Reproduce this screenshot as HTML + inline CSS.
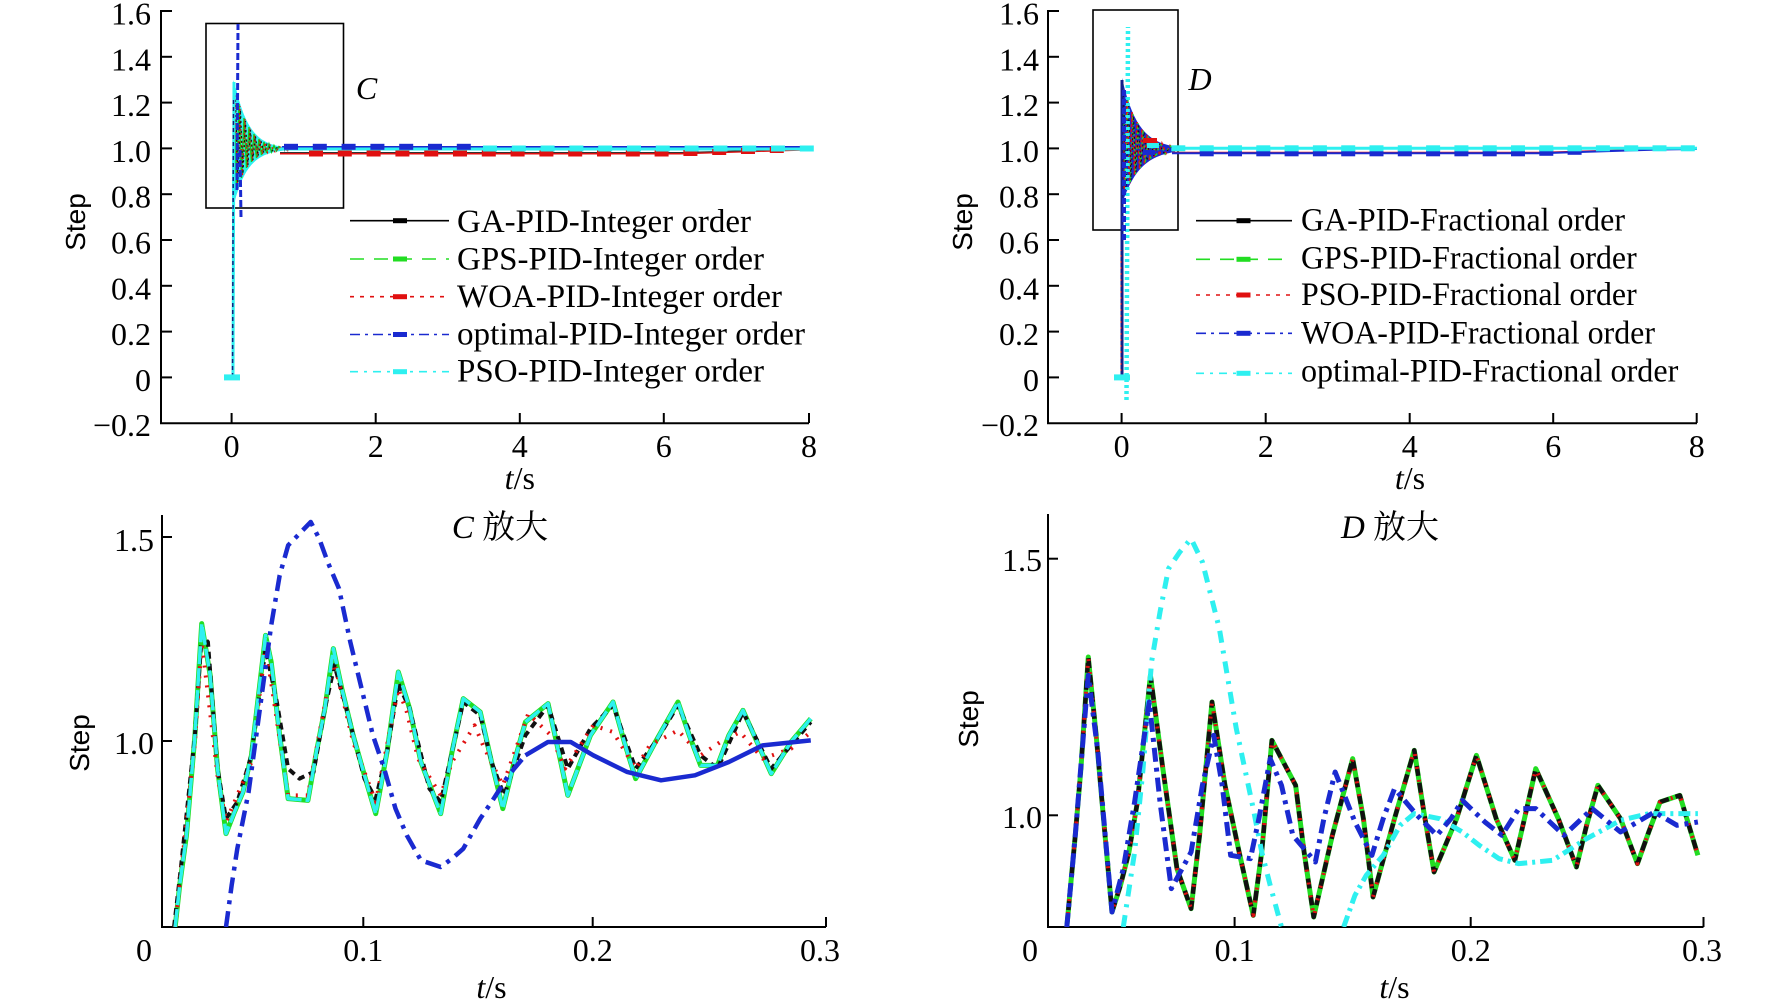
<!DOCTYPE html>
<html><head><meta charset="utf-8"><style>
html,body{margin:0;padding:0;background:#fff;}
svg{display:block;}
.tk{font-family:"Liberation Serif",serif;font-size:32px;fill:#000;}
.lg{font-family:"Liberation Serif",serif;font-size:33px;fill:#000;}
.st{font-family:"Liberation Sans",sans-serif;font-size:28px;fill:#000;}
.ttl{font-family:"Liberation Serif","Noto Serif CJK SC","Noto Sans CJK SC",serif;font-size:33px;fill:#000;}
</style></head><body>
<svg width="1772" height="1005" viewBox="0 0 1772 1005" xmlns="http://www.w3.org/2000/svg">
<rect width="1772" height="1005" fill="#fff"/>
<defs>
<clipPath id="cbl" clipPathUnits="userSpaceOnUse"><rect x="287" y="20" width="1180" height="1255"/></clipPath>
<clipPath id="cbr" clipPathUnits="userSpaceOnUse"><rect x="287" y="20" width="1165" height="1255"/></clipPath>
</defs>

<!-- ================= TOP LEFT ================= -->
<g stroke="#000" stroke-width="2" fill="none">
<line x1="161" y1="10" x2="161" y2="424"/>
<line x1="160" y1="423.2" x2="809" y2="423.2"/>
<line x1="161" y1="11" x2="172" y2="11"/><line x1="161" y1="56.8" x2="172" y2="56.8"/><line x1="161" y1="102.6" x2="172" y2="102.6"/><line x1="161" y1="148.4" x2="172" y2="148.4"/><line x1="161" y1="194.2" x2="172" y2="194.2"/><line x1="161" y1="240" x2="172" y2="240"/><line x1="161" y1="285.8" x2="172" y2="285.8"/><line x1="161" y1="331.6" x2="172" y2="331.6"/><line x1="161" y1="377.4" x2="172" y2="377.4"/>
<line x1="231.6" y1="423" x2="231.6" y2="413"/><line x1="375.7" y1="423" x2="375.7" y2="413"/><line x1="519.8" y1="423" x2="519.8" y2="413"/><line x1="663.8" y1="423" x2="663.8" y2="413"/><line x1="809" y1="423" x2="809" y2="413"/>
</g>
<g class="tk" text-anchor="end">
<text x="151" y="24.5" textLength="40" lengthAdjust="spacingAndGlyphs">1.6</text>
<text x="151" y="70.3" textLength="40" lengthAdjust="spacingAndGlyphs">1.4</text>
<text x="151" y="116.1" textLength="40" lengthAdjust="spacingAndGlyphs">1.2</text>
<text x="151" y="161.9" textLength="40" lengthAdjust="spacingAndGlyphs">1.0</text>
<text x="151" y="207.7" textLength="40" lengthAdjust="spacingAndGlyphs">0.8</text>
<text x="151" y="253.5" textLength="40" lengthAdjust="spacingAndGlyphs">0.6</text>
<text x="151" y="299.3" textLength="40" lengthAdjust="spacingAndGlyphs">0.4</text>
<text x="151" y="345.1" textLength="40" lengthAdjust="spacingAndGlyphs">0.2</text>
<text x="151" y="390.9">0</text>
<text x="151" y="436" textLength="58" lengthAdjust="spacingAndGlyphs">−0.2</text>
</g>
<g class="tk" text-anchor="middle">
<text x="231.6" y="457">0</text><text x="375.7" y="457">2</text><text x="519.8" y="457">4</text><text x="663.8" y="457">6</text><text x="809" y="457">8</text>
<text x="519.8" y="489"><tspan font-style="italic">t</tspan>/s</text>
</g>
<text class="st" transform="translate(85,222) rotate(-90)" text-anchor="middle">Step</text>
<rect x="206" y="23.5" width="137.5" height="184.5" fill="none" stroke="#000" stroke-width="1.6"/>
<text class="tk" x="366.5" y="99" text-anchor="middle" font-style="italic" font-size="34">C</text>

<!-- TL data -->
<polygon fill="#2ef0f0" points="233,80 236.5,90.4 239,100 241.5,108 244,114.7 246.5,120.3 249,125 251.5,128.9 254,132.2 256.5,134.9 259,137.2 261.5,139.2 264,140.8 266.5,142.1 269,143.3 271.5,144.2 274,145 276.5,145.6 279,146.2 284,147 295,147.5 295,150.5 284,150.5 279,151.2 276.5,151.6 274,152.1 271.5,152.8 269,153.5 266.5,154.4 264,155.4 261.5,156.7 259,158.2 256.5,160 254,162.2 251.5,164.8 249,167.9 246.5,171.5 244,176 241.5,181 239,187.5 236.5,195 234,204 232,200"/>
<polyline fill="none" stroke="#18c818" stroke-width="1.4" points="234,90 236.5,190 239,104 241.5,178 244,118 246.5,168 249,127 251.5,162 254,134 256.5,158 259,139 261.5,155 264,142 266.5,153 269,144 271.5,152 274,145.5 276.5,151 279,146.5 284,150"/>
<polyline fill="none" stroke="#e01010" stroke-width="1.2" stroke-dasharray="2 2" points="235,95 237.5,185 240,106 242.5,176 245,119 247.5,167 250,128 252.5,161 255,135 257.5,157 260,140 262.5,154 265,143 267.5,152.5 270,145 275,152 280,147 290,152"/>
<polyline fill="none" stroke="#111" stroke-width="1.1" stroke-dasharray="2 3" points="235.5,100 238,182 240.5,110 243,174 245.5,121 248,165 250.5,130 253,160 255.5,136 258,156 261,141 264,153 267,144 272,151 278,147 285,151"/>
<line x1="233" y1="377" x2="234" y2="82" stroke="#2ef0f0" stroke-width="3"/>
<line x1="232.5" y1="377" x2="233.5" y2="100" stroke="#102080" stroke-width="1.5" stroke-dasharray="4 3"/>
<line x1="237" y1="190" x2="238" y2="24" stroke="#1a2ad0" stroke-width="3" stroke-dasharray="7 3"/>
<line x1="240" y1="150" x2="241" y2="218" stroke="#1a2ad0" stroke-width="3" stroke-dasharray="7 3"/>
<rect x="224" y="374.4" width="16" height="6" fill="#2ef0f0"/>
<!-- TL flats -->
<path d="M280,153.5 L680,153.5 L809,149.5" fill="none" stroke="#e01010" stroke-width="2"/>
<path d="M280,152.5 L680,152.5 L809,149" fill="none" stroke="#333" stroke-width="1"/>
<line x1="280" y1="149" x2="809" y2="149" stroke="#2ef0f0" stroke-width="3"/>
<line x1="282" y1="146.8" x2="809" y2="146.8" stroke="#1a2ad0" stroke-width="1.5"/>
<g fill="#e01010">
<rect x="309" y="150.5" width="14" height="6"/><rect x="337.8" y="150.5" width="14" height="6"/><rect x="366.6" y="150.5" width="14" height="6"/><rect x="395.4" y="150.5" width="14" height="6"/><rect x="424.2" y="150.5" width="14" height="6"/><rect x="453" y="150.5" width="14" height="6"/><rect x="481.8" y="150.5" width="14" height="6"/><rect x="510.6" y="150.5" width="14" height="6"/><rect x="539.4" y="150.5" width="14" height="6"/><rect x="568.2" y="150.5" width="14" height="6"/><rect x="597" y="150.5" width="14" height="6"/><rect x="625.8" y="150.5" width="14" height="6"/><rect x="654.6" y="150.5" width="14" height="6"/><rect x="683.4" y="150" width="14" height="6"/><rect x="712.2" y="149" width="14" height="6"/><rect x="741" y="148" width="14" height="6"/><rect x="769.8" y="147" width="14" height="6"/>
</g>
<g fill="#2ef0f0">
<rect x="483" y="145.5" width="14" height="6"/><rect x="511.8" y="145.5" width="14" height="6"/><rect x="540.6" y="145.5" width="14" height="6"/><rect x="569.4" y="145.5" width="14" height="6"/><rect x="598.2" y="145.5" width="14" height="6"/><rect x="627" y="145.5" width="14" height="6"/><rect x="655.8" y="145.5" width="14" height="6"/><rect x="684.6" y="145.5" width="14" height="6"/><rect x="713.4" y="145.5" width="14" height="6"/><rect x="742.2" y="145.5" width="14" height="6"/><rect x="771" y="145.5" width="14" height="6"/><rect x="799.8" y="145.5" width="14" height="6"/>
</g>
<g fill="#1a2ad0">
<rect x="284" y="143.8" width="14" height="6"/><rect x="312.8" y="143.8" width="14" height="6"/><rect x="341.6" y="143.8" width="14" height="6"/><rect x="370.4" y="143.8" width="14" height="6"/><rect x="399.2" y="143.8" width="14" height="6"/><rect x="428" y="143.8" width="14" height="6"/><rect x="456.8" y="143.8" width="14" height="6"/>
</g>
<!-- TL legend -->
<g fill="none" stroke-width="1.6">
<line x1="350" y1="220.7" x2="449" y2="220.7" stroke="#000"/>
<line x1="350" y1="259" x2="449" y2="259" stroke="#22dd22" stroke-dasharray="14 10"/>
<line x1="350" y1="296.7" x2="449" y2="296.7" stroke="#e01010" stroke-dasharray="4 6"/>
<line x1="350" y1="334.5" x2="449" y2="334.5" stroke="#1a2ad0" stroke-dasharray="10 5 3 5"/>
<line x1="350" y1="371.7" x2="449" y2="371.7" stroke="#2ef0f0" stroke-dasharray="8 6 3 6"/>
</g>
<rect x="393" y="218.2" width="14" height="5" fill="#000"/>
<rect x="393" y="256.5" width="14" height="5" fill="#22dd22"/>
<rect x="393" y="294.2" width="14" height="5" fill="#e01010"/>
<rect x="393" y="332" width="14" height="5" fill="#1a2ad0"/>
<rect x="393" y="369.2" width="14" height="5" fill="#2ef0f0"/>
<g class="lg">
<text x="457" y="232" textLength="294" lengthAdjust="spacingAndGlyphs">GA-PID-Integer order</text>
<text x="457" y="269.5" textLength="307" lengthAdjust="spacingAndGlyphs">GPS-PID-Integer order</text>
<text x="457" y="307" textLength="325" lengthAdjust="spacingAndGlyphs">WOA-PID-Integer order</text>
<text x="457" y="344.3" textLength="348" lengthAdjust="spacingAndGlyphs">optimal-PID-Integer order</text>
<text x="457" y="381.5" textLength="307" lengthAdjust="spacingAndGlyphs">PSO-PID-Integer order</text>
</g>

<!-- ================= TOP RIGHT ================= -->
<g stroke="#000" stroke-width="2" fill="none">
<line x1="1048" y1="10" x2="1048" y2="424"/>
<line x1="1047" y1="423.2" x2="1697" y2="423.2"/>
<line x1="1048" y1="11" x2="1059" y2="11"/><line x1="1048" y1="56.8" x2="1059" y2="56.8"/><line x1="1048" y1="102.6" x2="1059" y2="102.6"/><line x1="1048" y1="148.4" x2="1059" y2="148.4"/><line x1="1048" y1="194.2" x2="1059" y2="194.2"/><line x1="1048" y1="240" x2="1059" y2="240"/><line x1="1048" y1="285.8" x2="1059" y2="285.8"/><line x1="1048" y1="331.6" x2="1059" y2="331.6"/><line x1="1048" y1="377.4" x2="1059" y2="377.4"/>
<line x1="1121.6" y1="423" x2="1121.6" y2="413"/><line x1="1265.7" y1="423" x2="1265.7" y2="413"/><line x1="1409.7" y1="423" x2="1409.7" y2="413"/><line x1="1553.2" y1="423" x2="1553.2" y2="413"/><line x1="1696.7" y1="423" x2="1696.7" y2="413"/>
</g>
<g class="tk" text-anchor="end">
<text x="1039" y="24.5" textLength="40" lengthAdjust="spacingAndGlyphs">1.6</text>
<text x="1039" y="70.3" textLength="40" lengthAdjust="spacingAndGlyphs">1.4</text>
<text x="1039" y="116.1" textLength="40" lengthAdjust="spacingAndGlyphs">1.2</text>
<text x="1039" y="161.9" textLength="40" lengthAdjust="spacingAndGlyphs">1.0</text>
<text x="1039" y="207.7" textLength="40" lengthAdjust="spacingAndGlyphs">0.8</text>
<text x="1039" y="253.5" textLength="40" lengthAdjust="spacingAndGlyphs">0.6</text>
<text x="1039" y="299.3" textLength="40" lengthAdjust="spacingAndGlyphs">0.4</text>
<text x="1039" y="345.1" textLength="40" lengthAdjust="spacingAndGlyphs">0.2</text>
<text x="1039" y="390.9">0</text>
<text x="1039" y="436" textLength="58" lengthAdjust="spacingAndGlyphs">−0.2</text>
</g>
<g class="tk" text-anchor="middle">
<text x="1121.6" y="457">0</text><text x="1265.7" y="457">2</text><text x="1409.7" y="457">4</text><text x="1553.2" y="457">6</text><text x="1696.7" y="457">8</text>
<text x="1410" y="489"><tspan font-style="italic">t</tspan>/s</text>
</g>
<text class="st" transform="translate(972,222) rotate(-90)" text-anchor="middle">Step</text>
<rect x="1093" y="10" width="85" height="220" fill="none" stroke="#000" stroke-width="1.6"/>
<text class="tk" x="1200" y="90" text-anchor="middle" font-style="italic" font-size="34">D</text>

<!-- TR data -->
<polygon fill="#1a2ad0" points="1122,78 1124.5,88.3 1127,97 1129.5,104.6 1132,111 1134.5,116.5 1137,121.2 1139.5,125.2 1142,128.6 1144.5,131.6 1147,134.1 1149.5,136.3 1152,138.1 1154.5,139.7 1157,141 1159.5,142.2 1162,143.2 1164.5,144 1167,144.7 1169.5,145.4 1172,145.9 1175,146.4 1175,151.9 1172,152.4 1169.5,153 1167,153.5 1164.5,154.2 1162,154.9 1159.5,155.9 1157,156.9 1154.5,158 1152,159.4 1149.5,160.9 1147,162.7 1144.5,164.7 1142,167.1 1139.5,169.8 1137,172.9 1134.5,176.4 1132,180.6 1129.5,185.2 1127,190.7 1124.5,196.9 1122,204"/>
<polyline fill="none" stroke="#e01010" stroke-width="1.6" stroke-dasharray="3 2" points="1122,80 1124.5,195 1127,98 1129.5,184 1132,112 1134.5,175 1137,122 1139.5,169 1142,129 1144.5,164 1147,135 1149.5,160 1152,138.5 1154.5,157.5 1157,141.5 1159.5,155.5 1162,143.5 1166,153.5 1170,145.5 1176,152"/>
<polyline fill="none" stroke="#22dd22" stroke-width="1.3" stroke-dasharray="2 3" points="1123,84 1125.5,192 1128,100 1130.5,182 1133,114 1135.5,174 1138,123 1140.5,168 1143,130 1145.5,163 1148,136 1150.5,160 1153,139 1156,157 1160,142.5 1165,154 1170,146 1176,151"/>
<polyline fill="none" stroke="#111" stroke-width="1" stroke-dasharray="2 3" points="1123.5,90 1126,188 1128.5,103 1131,180 1133.5,116 1136,172 1138.5,124 1141,166 1144,132 1147,161 1150,137 1154,157 1158,142 1164,153 1172,147"/>
<line x1="1122" y1="377" x2="1122" y2="80" stroke="#14208a" stroke-width="3"/>
<line x1="1121" y1="377" x2="1121" y2="250" stroke="#e01010" stroke-width="1" stroke-dasharray="2 4"/>
<line x1="1126.5" y1="400" x2="1128" y2="27" stroke="#2ef0f0" stroke-width="4.5" stroke-dasharray="3 3"/>
<line x1="1124" y1="90" x2="1124" y2="240" stroke="#1a2ad0" stroke-width="4" stroke-dasharray="6 3"/>
<rect x="1143" y="138" width="14" height="5" fill="#e01010"/>
<rect x="1147" y="143" width="12" height="5" fill="#2ef0f0"/>
<rect x="1143" y="150" width="12" height="5" fill="#1a2ad0"/>
<rect x="1114" y="374.4" width="16" height="6" fill="#2ef0f0"/>
<!-- TR flats -->
<path d="M1172,152.5 L1540,152.5 L1660,149 L1697,148.8" fill="none" stroke="#e01010" stroke-width="1.5"/>
<path d="M1172,153.3 L1540,153.3 L1660,149.5 L1697,149" fill="none" stroke="#1a2ad0" stroke-width="2"/>
<line x1="1172" y1="148.3" x2="1697" y2="148.3" stroke="#2ef0f0" stroke-width="3"/>
<g fill="#1a2ad0">
<rect x="1199.7" y="150.3" width="14" height="6"/><rect x="1228" y="150.3" width="14" height="6"/><rect x="1256.3" y="150.3" width="14" height="6"/><rect x="1284.6" y="150.3" width="14" height="6"/><rect x="1312.9" y="150.3" width="14" height="6"/><rect x="1341.2" y="150.3" width="14" height="6"/><rect x="1369.5" y="150.3" width="14" height="6"/><rect x="1397.8" y="150.3" width="14" height="6"/><rect x="1426.1" y="150.3" width="14" height="6"/><rect x="1454.4" y="150.3" width="14" height="6"/><rect x="1482.7" y="150.3" width="14" height="6"/><rect x="1511" y="150.3" width="14" height="6"/><rect x="1539.3" y="149.8" width="14" height="6"/><rect x="1567.6" y="148.8" width="14" height="6"/>
</g>
<g fill="#2ef0f0">
<rect x="1171.3" y="145.3" width="14" height="6"/><rect x="1199.7" y="145.3" width="14" height="6"/><rect x="1228" y="145.3" width="14" height="6"/><rect x="1256.3" y="145.3" width="14" height="6"/><rect x="1284.6" y="145.3" width="14" height="6"/><rect x="1312.9" y="145.3" width="14" height="6"/><rect x="1341.2" y="145.3" width="14" height="6"/><rect x="1369.5" y="145.3" width="14" height="6"/><rect x="1397.8" y="145.3" width="14" height="6"/><rect x="1426.1" y="145.3" width="14" height="6"/><rect x="1454.4" y="145.3" width="14" height="6"/><rect x="1482.7" y="145.3" width="14" height="6"/><rect x="1511" y="145.3" width="14" height="6"/><rect x="1539.3" y="145.3" width="14" height="6"/><rect x="1567.6" y="145.3" width="14" height="6"/><rect x="1595.9" y="145.3" width="14" height="6"/><rect x="1624.2" y="145.3" width="14" height="6"/><rect x="1652.5" y="145.3" width="14" height="6"/><rect x="1680.8" y="145.3" width="14" height="6"/>
</g>
<!-- TR legend -->
<g fill="none" stroke-width="1.6">
<line x1="1196" y1="220.7" x2="1292" y2="220.7" stroke="#000"/>
<line x1="1196" y1="259.3" x2="1292" y2="259.3" stroke="#22dd22" stroke-dasharray="14 10"/>
<line x1="1196" y1="295" x2="1292" y2="295" stroke="#e01010" stroke-dasharray="4 6"/>
<line x1="1196" y1="333.3" x2="1292" y2="333.3" stroke="#1a2ad0" stroke-dasharray="10 5 3 5"/>
<line x1="1196" y1="373.3" x2="1292" y2="373.3" stroke="#2ef0f0" stroke-dasharray="8 6 3 6"/>
</g>
<rect x="1236.5" y="218.2" width="14" height="5" fill="#000"/>
<rect x="1236.5" y="256.8" width="14" height="5" fill="#22dd22"/>
<rect x="1236.5" y="292.5" width="14" height="5" fill="#e01010"/>
<rect x="1236.5" y="330.8" width="14" height="5" fill="#1a2ad0"/>
<rect x="1236.5" y="370.8" width="14" height="5" fill="#2ef0f0"/>
<g class="lg">
<text x="1301" y="230.7" textLength="324" lengthAdjust="spacingAndGlyphs">GA-PID-Fractional order</text>
<text x="1301" y="268.3" textLength="335.7" lengthAdjust="spacingAndGlyphs">GPS-PID-Fractional order</text>
<text x="1301" y="305" textLength="335.7" lengthAdjust="spacingAndGlyphs">PSO-PID-Fractional order</text>
<text x="1301" y="343.3" textLength="354" lengthAdjust="spacingAndGlyphs">WOA-PID-Fractional order</text>
<text x="1301" y="381.7" textLength="377.3" lengthAdjust="spacingAndGlyphs">optimal-PID-Fractional order</text>
</g>

<!-- ================= BOTTOM LEFT ================= -->
<g stroke="#000" stroke-width="2" fill="none">
<line x1="162" y1="515" x2="162" y2="928"/>
<line x1="161" y1="927" x2="826" y2="927"/>
<line x1="162" y1="537" x2="172" y2="537"/><line x1="162" y1="741" x2="172" y2="741"/>
<line x1="363.3" y1="927" x2="363.3" y2="917"/><line x1="592.7" y1="927" x2="592.7" y2="917"/><line x1="826" y1="927" x2="826" y2="917"/>
</g>
<g class="tk" text-anchor="end">
<text x="154" y="551" textLength="40" lengthAdjust="spacingAndGlyphs">1.5</text>
<text x="154" y="754" textLength="40" lengthAdjust="spacingAndGlyphs">1.0</text>
</g>
<g class="tk" text-anchor="middle">
<text x="144" y="961">0</text>
<text x="363.3" y="961" textLength="40" lengthAdjust="spacingAndGlyphs">0.1</text>
<text x="592.7" y="961" textLength="40" lengthAdjust="spacingAndGlyphs">0.2</text>
<text x="820" y="961" textLength="40" lengthAdjust="spacingAndGlyphs">0.3</text>
<text x="491.5" y="998"><tspan font-style="italic">t</tspan>/s</text>
</g>
<text class="st" transform="translate(89,743) rotate(-90)" text-anchor="middle">Step</text>
<text class="ttl" x="500" y="538" text-anchor="middle"><tspan font-style="italic">C</tspan> 放大</text>

<g transform="translate(0,502) scale(0.565,0.33333)">
<g clip-path="url(#cbl)" fill="none" stroke-linejoin="round">
<polyline vector-effect="non-scaling-stroke" stroke="#22dd22" stroke-width="5" points="310,1275 318,1150 330,1000 345,700 357,365 372,520 385,800 400,995 415,930 430,870 445,760 470,400 480,480 495,700 510,890 545,895 560,750 575,620 590,440 605,560 625,700 645,820 665,935 685,750 705,510 725,620 745,780 780,935 800,750 820,590 850,630 870,780 890,920 910,780 930,660 970,605 990,760 1005,880 1045,700 1085,600 1105,720 1125,830 1160,720 1200,600 1220,700 1240,790 1270,790 1290,700 1315,625 1340,720 1365,815 1400,720 1435,650"/>
<polyline vector-effect="non-scaling-stroke" stroke="#111" stroke-width="4" stroke-dasharray="7 5" points="308,1275 320,1100 345,700 357,400 368,420 385,800 400,950 420,900 445,760 470,440 490,600 510,800 530,830 555,810 575,620 592,490 610,600 645,830 665,890 685,750 705,545 725,620 760,860 780,900 800,750 820,600 850,640 870,780 892,880 930,700 970,610 1005,800 1045,680 1085,610 1125,800 1160,720 1200,610 1240,760 1270,800 1315,630 1365,800 1435,660"/>
<polyline vector-effect="non-scaling-stroke" stroke="#e01010" stroke-width="4" stroke-dasharray="2 8" points="310,1275 345,720 357,420 385,820 400,960 445,780 470,430 510,880 545,880 590,470 625,720 665,900 705,560 720,630 740,770 780,880 800,780 840,670 855,730 890,850 935,635 975,700 1000,800 1050,670 1085,690 1125,800 1150,730 1200,685 1240,760 1275,720 1310,690 1350,770 1400,740 1435,690"/>
<polyline vector-effect="non-scaling-stroke" stroke="#2ef0f0" stroke-width="3.5" stroke-dasharray="18 4" points="310,1275 318,1150 330,1000 345,700 357,365 372,520 385,800 400,995 415,930 430,870 445,760 470,400 480,480 495,700 510,890 545,895 560,750 575,620 590,440 605,560 625,700 645,820 665,935 685,750 705,510 725,620 745,780 780,935 800,750 820,590 850,630 870,780 890,920 910,780 930,660 970,605 990,760 1005,880 1045,700 1085,600 1105,720 1125,830 1160,720 1200,600 1220,700 1240,790 1270,790 1290,700 1315,625 1340,720 1365,815 1400,720 1435,650"/>
<polyline vector-effect="non-scaling-stroke" stroke="#1a2ad0" stroke-width="4.5" stroke-dasharray="16 7 4 7" points="400,1275 410,1150 420,1040 440,870 460,620 480,370 495,220 510,130 530,95 550,60 565,110 580,180 600,260 620,420 640,560 660,700 680,800 700,920 720,1000 745,1075 780,1095 800,1070 820,1040 850,950 870,900 900,820 930,760"/>
<polyline vector-effect="non-scaling-stroke" stroke="#1a2ad0" stroke-width="4.5" points="930,760 970,720 1010,720 1050,760 1110,810 1170,835 1230,820 1290,780 1350,730 1435,715"/>
</g>
</g>

<!-- ================= BOTTOM RIGHT ================= -->
<g stroke="#000" stroke-width="2" fill="none">
<line x1="1048" y1="514" x2="1048" y2="928"/>
<line x1="1047" y1="927" x2="1703.5" y2="927"/>
<line x1="1048" y1="558.7" x2="1058" y2="558.7"/><line x1="1048" y1="815.3" x2="1058" y2="815.3"/>
<line x1="1234.6" y1="927" x2="1234.6" y2="917"/><line x1="1470.7" y1="927" x2="1470.7" y2="917"/><line x1="1703.5" y1="927" x2="1703.5" y2="917"/>
</g>
<g class="tk" text-anchor="end">
<text x="1042" y="571" textLength="40" lengthAdjust="spacingAndGlyphs">1.5</text>
<text x="1042" y="828" textLength="40" lengthAdjust="spacingAndGlyphs">1.0</text>
</g>
<g class="tk" text-anchor="middle">
<text x="1030" y="961">0</text>
<text x="1234.6" y="961" textLength="40" lengthAdjust="spacingAndGlyphs">0.1</text>
<text x="1470.7" y="961" textLength="40" lengthAdjust="spacingAndGlyphs">0.2</text>
<text x="1702" y="961" textLength="40" lengthAdjust="spacingAndGlyphs">0.3</text>
<text x="1394.5" y="998"><tspan font-style="italic">t</tspan>/s</text>
</g>
<text class="st" transform="translate(978,719) rotate(-90)" text-anchor="middle">Step</text>
<text class="ttl" x="1390" y="538" text-anchor="middle"><tspan font-style="italic">D</tspan> 放大</text>

<g transform="translate(886,502) scale(0.565,0.33333)">
<g clip-path="url(#cbr)" fill="none" stroke-linejoin="round">
<polyline vector-effect="non-scaling-stroke" stroke="#22dd22" stroke-width="5" points="320,1275 335,1000 345,800 358,465 372,700 385,950 400,1230 415,1150 430,1050 445,900 468,520 490,800 515,1100 540,1220 555,1000 577,600 600,850 625,1050 650,1240 665,1050 683,715 725,850 740,1050 757,1245 790,1000 826,770 845,950 862,1185 900,950 935,745 952,930 970,1110 1010,950 1045,760 1080,950 1113,1075 1130,950 1150,800 1190,950 1222,1095 1240,970 1260,850 1300,950 1330,1085 1350,990 1370,900 1405,880 1437,1060"/>
<polyline vector-effect="non-scaling-stroke" stroke="#111" stroke-width="4.5" stroke-dasharray="10 7" points="320,1275 335,1000 345,800 358,465 372,700 385,950 400,1230 415,1150 430,1050 445,900 468,520 490,800 515,1100 540,1220 555,1000 577,600 600,850 625,1050 650,1240 665,1050 683,715 725,850 740,1050 757,1245 790,1000 826,770 845,950 862,1185 900,950 935,745 952,930 970,1110 1010,950 1045,760 1080,950 1113,1075 1130,950 1150,800 1190,950 1222,1095 1240,970 1260,850 1300,950 1330,1085 1350,990 1370,900 1405,880 1437,1060"/>
<polyline vector-effect="non-scaling-stroke" stroke="#e01010" stroke-width="4" stroke-dasharray="2 11" points="320,1275 335,1000 345,800 358,465 372,700 385,950 400,1230 415,1150 430,1050 445,900 468,520 490,800 515,1100 540,1220 555,1000 577,600 600,850 625,1050 650,1240 665,1050 683,715 725,850 740,1050 757,1245 790,1000 826,770 845,950 862,1185 900,950 935,745 952,930 970,1110 1010,950 1045,760 1080,950 1113,1075 1130,950 1150,800 1190,950 1222,1095 1240,970 1260,850 1300,950 1330,1085 1350,990 1370,900 1405,880 1437,1060"/>
<polyline vector-effect="non-scaling-stroke" stroke="#2ef0f0" stroke-width="5" stroke-dasharray="12 8 3 8" points="420,1275 440,1050 455,800 470,480 485,330 500,200 520,150 540,110 560,180 575,280 590,380 605,530 620,680 635,800 650,920 665,1050 680,1150 700,1275"/>
<polyline vector-effect="non-scaling-stroke" stroke="#2ef0f0" stroke-width="5" stroke-dasharray="12 5 3 5" points="810,1275 830,1180 850,1120 880,1060 910,970 935,935 980,950 1020,990 1050,1030 1085,1070 1120,1085 1180,1075 1240,1010 1300,955 1350,935 1437,935"/>
<polyline vector-effect="non-scaling-stroke" stroke="#1a2ad0" stroke-width="5" stroke-dasharray="14 6 4 6" points="320,1275 335,1000 358,520 375,750 400,1230 420,1100 440,900 466,600 485,900 505,1160 540,1050 560,850 580,700 595,850 610,1060 645,1070 660,950 680,770 700,850 720,1000 760,1080 775,950 795,810 830,960 860,1060 880,950 900,860 940,940 975,1000 1000,950 1020,895 1060,960 1090,1000 1120,920 1150,920 1200,1000 1250,920 1300,990 1360,930 1400,970 1437,960"/>
</g>
</g>
</svg>
</body></html>
